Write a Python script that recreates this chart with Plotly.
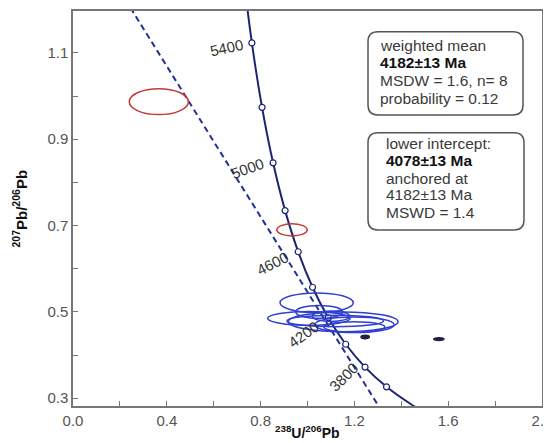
import plotly.graph_objects as go

# ---------------- data ----------------
# Concordia (Tera-Wasserburg) points, age in Ma
conc_age = [3300, 3400, 3600, 3800, 4000, 4200, 4400, 4600, 4800, 5000, 5200, 5400, 5600]
conc_x = [1.4959, 1.4398, 1.3370, 1.2453, 1.1630, 1.0888, 1.0215, 0.9604, 0.9045, 0.8533, 0.8062, 0.7628, 0.7226]
conc_y = [0.2690, 0.2867, 0.3264, 0.3721, 0.4250, 0.4862, 0.5571, 0.6393, 0.7346, 0.8453, 0.9738, 1.1231, 1.2968]
marker_ages = [3600, 3800, 4000, 4200, 4400, 4600, 4800, 5000, 5200, 5400]
label_ages = [3800, 4200, 4600, 5000, 5400]
label_angle = [-45, -36, -27, -20, -12]
label_shift = [(-22, -10), (-25, -17), (-26, -12), (-26, -6), (-25, -5)]

# Discordia (dashed) line end points
disc_x = [0.20, 1.35]
disc_y = [1.2436, 0.2408]

# Analyses: centre x, centre y, half-width x, half-height y
blue_cx = [1.039, 1.006, 1.152, 1.118, 1.200, 1.100, 1.200, 1.050]
blue_cy = [0.521, 0.485, 0.477, 0.479, 0.470, 0.490, 0.465, 0.500]
blue_sx = [0.156, 0.176, 0.234, 0.206, 0.170, 0.080, 0.130, 0.100]
blue_sy = [0.023, 0.016, 0.023, 0.0135, 0.018, 0.012, 0.012, 0.015]

red_cx = [0.366, 0.934]
red_cy = [0.987, 0.690]
red_sx = [0.126, 0.065]
red_sy = [0.030, 0.014]

dark_cx = [1.246, 1.560]
dark_cy = [0.442, 0.437]
dark_sx = [0.018, 0.022]
dark_sy = [0.004, 0.003]

box1_lines = ["weighted mean", "<b>4182±13 Ma</b>", "MSDW = 1.6, n= 8", "probability = 0.12"]
box2_lines = ["lower intercept:", "<b>4078±13 Ma</b>", "anchored at", "4182±13 Ma", "MSWD = 1.4"]

x_ticks = [0.0, 0.4, 0.8, 1.2, 1.6, 2.0]
y_ticks = [0.3, 0.5, 0.7, 0.9, 1.1]

# ---------------- figure ----------------
FONT = "Arial, Liberation Sans, Helvetica, sans-serif"
NAVY = "#1c2472"
BLUE = "#2f3fd0"
RED = "#c43a35"

fig = go.Figure()

fig.add_trace(go.Scatter(x=disc_x, y=disc_y, mode="lines",
                         line=dict(color="#22308f", width=2, dash="6px,4px"),
                         hoverinfo="skip", showlegend=False))

fig.add_trace(go.Scatter(x=conc_x, y=conc_y, mode="lines",
                         line=dict(color=NAVY, width=2, shape="spline"),
                         hoverinfo="skip", showlegend=False))

mx = [conc_x[conc_age.index(a)] for a in marker_ages]
my = [conc_y[conc_age.index(a)] for a in marker_ages]
fig.add_trace(go.Scatter(x=mx, y=my, mode="markers",
                         marker=dict(size=6, color="white", line=dict(color=NAVY, width=1.2)),
                         hoverinfo="skip", showlegend=False))

shapes = []
def add_ell(cx, cy, sx, sy, color, width, fill=None):
    for a, b, c, d in zip(cx, cy, sx, sy):
        shapes.append(dict(type="circle", xref="x", yref="y",
                           x0=a - c, x1=a + c, y0=b - d, y1=b + d,
                           line=dict(color=color, width=width),
                           fillcolor=fill if fill else "rgba(0,0,0,0)", layer="above"))

add_ell(red_cx, red_cy, red_sx, red_sy, RED, 1.5)
add_ell(blue_cx, blue_cy, blue_sx, blue_sy, BLUE, 1.5)
add_ell(dark_cx, dark_cy, dark_sx, dark_sy, "#222244", 1.5, "#222244")

# rounded boxes (paper coords)
def rounded(x0, y0, x1, y1, rx=0.021, ry=0.025):
    return (f"M {x0+rx},{y0} L {x1-rx},{y0} Q {x1},{y0} {x1},{y0+ry} "
            f"L {x1},{y1-ry} Q {x1},{y1} {x1-rx},{y1} L {x0+rx},{y1} "
            f"Q {x0},{y1} {x0},{y1-ry} L {x0},{y0+ry} Q {x0},{y0} {x0+rx},{y0} Z")

shapes.append(dict(type="path", xref="paper", yref="paper",
                   path=rounded(0.629, 0.737, 0.9595, 0.9476),
                   line=dict(color="#555555", width=1.5), fillcolor="white"))
shapes.append(dict(type="path", xref="paper", yref="paper",
                   path=rounded(0.629, 0.4456, 0.9616, 0.692),
                   line=dict(color="#555555", width=1.5), fillcolor="white"))

annotations = []
for y, t in zip([0.9139, 0.8697, 0.8253, 0.779], box1_lines):
    annotations.append(dict(x=0.651, y=y, xref="paper", yref="paper", text=t,
                            showarrow=False, xanchor="left", yanchor="middle",
                            font=dict(family=FONT, size=15.5,
                                      color="#111111" if "<b>" in t else "#3a3a3a")))
for y, t in zip([0.6633, 0.6203, 0.5772, 0.5342, 0.4911], box2_lines):
    annotations.append(dict(x=0.6637, y=y, xref="paper", yref="paper", text=t,
                            showarrow=False, xanchor="left", yanchor="middle",
                            font=dict(family=FONT, size=15.5,
                                      color="#111111" if "<b>" in t else "#3a3a3a")))

for a, ang, (dx, dy) in zip(label_ages, label_angle, label_shift):
    i = conc_age.index(a)
    annotations.append(dict(x=conc_x[i], y=conc_y[i], xref="x", yref="y",
                            text=str(a), showarrow=False, textangle=ang,
                            xshift=dx, yshift=dy,
                            font=dict(family=FONT, size=15, color="#333333")))

# axis titles
annotations.append(dict(x=0.5, y=0, xref="paper", yref="paper", yanchor="bottom",
                        yshift=-37, showarrow=False,
                        text="<b><sup>238</sup>U/<sup>206</sup>Pb</b>",
                        font=dict(family=FONT, size=14, color="#111111")))
annotations.append(dict(x=0, y=0.5, xref="paper", yref="paper", xanchor="center",
                        xshift=-53, showarrow=False, textangle=-90,
                        text="<b><sup>207</sup>Pb/<sup>206</sup>Pb</b>",
                        font=dict(family=FONT, size=15, color="#111111")))

# The page body has an 8px margin, so the figure is shrunk by 8px and the
# margins shifted so the plot area lands where it is in the reference.
fig.update_layout(
    width=543, height=435,
    margin=dict(l=65, r=9, t=3, b=37),
    paper_bgcolor="white", plot_bgcolor="white",
    shapes=shapes, annotations=annotations,
    font=dict(family=FONT),
)

fig.update_xaxes(range=[0, 2], tickvals=x_ticks, ticktext=[f"{v:.1f}" for v in x_ticks],
                 automargin=False, ticklabeloverflow="allow",
                 ticks="inside", ticklen=5, tickcolor="#777777", tickwidth=1,
                 minor=dict(tickvals=[0.2, 0.6, 1.0, 1.4, 1.8], ticks="inside", ticklen=5,
                            tickcolor="#777777"),
                 showline=True, linecolor="#777777", linewidth=1.5, mirror=True,
                 showgrid=False, zeroline=False,
                 tickfont=dict(family=FONT, size=15, color="#555555"))
fig.update_yaxes(range=[0.282, 1.197], tickvals=y_ticks, ticktext=[f"{v:.1f}" for v in y_ticks],
                 automargin=False, ticklabeloverflow="allow",
                 ticks="inside", ticklen=5, tickcolor="#777777", tickwidth=1,
                 minor=dict(tickvals=[0.4, 0.6, 0.8, 1.0], ticks="inside", ticklen=5,
                            tickcolor="#777777"),
                 showline=True, linecolor="#777777", linewidth=1.5, mirror=True,
                 showgrid=False, zeroline=False,
                 tickfont=dict(family=FONT, size=15, color="#555555"))

fig.write_html("out.html")
